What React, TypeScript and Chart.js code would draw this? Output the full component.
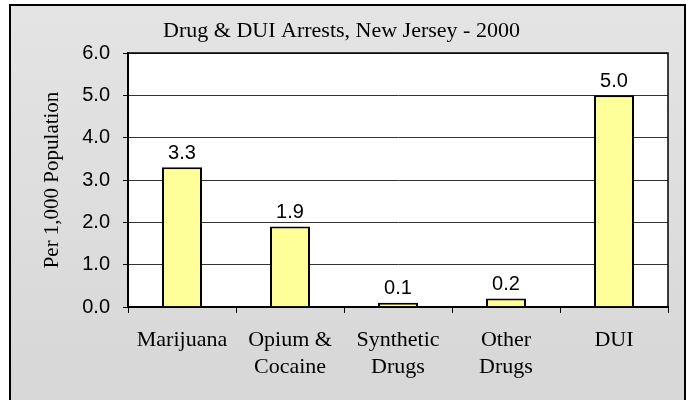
import { useEffect, useRef } from "react";
import { Chart, registerables } from "chart.js";

Chart.register(...registerables);

const categories: string[][] = [
  ["Marijuana"],
  ["Opium &", "Cocaine"],
  ["Synthetic", "Drugs"],
  ["Other", "Drugs"],
  ["DUI"],
];
const values: number[] = [3.3, 1.9, 0.1, 0.2, 5.0];
const yMin = 0;
const yMax = 6;
const yStep = 1;
const titleText = "Drug & DUI Arrests, New Jersey - 2000";
const yAxisTitle = "Per 1,000 Population";

const SERIF = "'Liberation Serif', 'Times New Roman', serif";
const SANS = "'Liberation Sans', Arial, sans-serif";

const framePlugin = {
  id: "frame",
  beforeDraw(chart: any) {
    const { ctx, chartArea } = chart;
    ctx.save();
    ctx.fillStyle = "#ffffff";
    ctx.fillRect(0, 0, chart.width, chart.height);
    const g = ctx.createLinearGradient(0, 5, 0, 400);
    g.addColorStop(0, "#e4e4e4");
    g.addColorStop(1, "#d7d7d7");
    ctx.fillStyle = g;
    ctx.fillRect(10, 5, 675, 400);
    ctx.strokeStyle = "#000000";
    ctx.lineWidth = 2;
    ctx.strokeRect(10, 5, 675, 400);
    ctx.fillStyle = "#ffffff";
    ctx.fillRect(
      chartArea.left,
      chartArea.top,
      chartArea.right - chartArea.left,
      chartArea.bottom - chartArea.top
    );
    ctx.restore();
  },
  afterDatasetsDraw(chart: any) {
    const { ctx, chartArea } = chart;
    ctx.save();
    ctx.strokeStyle = "#000000";
    ctx.lineWidth = 1.5;
    ctx.strokeRect(
      chartArea.left,
      chartArea.top,
      chartArea.right - chartArea.left,
      chartArea.bottom - chartArea.top
    );
    const meta = chart.getDatasetMeta(0);
    ctx.fillStyle = "#000000";
    ctx.font = `20px ${SANS}`;
    ctx.textAlign = "center";
    ctx.textBaseline = "bottom";
    meta.data.forEach((bar: any, i: number) => {
      ctx.fillText(values[i].toFixed(1), bar.x, bar.y - 4);
    });
    ctx.restore();
  },
};

export default function App() {
  const ref = useRef<HTMLCanvasElement>(null);

  useEffect(() => {
    document.body.style.margin = "0";
    const canvas = ref.current;
    if (!canvas) return;
    const chart = new Chart(canvas, {
      type: "bar",
      data: {
        labels: categories,
        datasets: [
          {
            data: values,
            backgroundColor: "#ffff99",
            borderColor: "#000000",
            borderWidth: 2,
            barPercentage: 0.37,
            categoryPercentage: 1,
          },
        ],
      },
      options: {
        animation: false,
        responsive: false,
        layout: { padding: { left: 15, right: 20, top: 0, bottom: 0 } },
        plugins: {
          legend: { display: false },
          tooltip: { enabled: false },
          title: {
            display: true,
            text: titleText,
            color: "#000000",
            font: { family: SERIF, size: 22, weight: "normal" },
            padding: { top: 18, bottom: 8.6 },
          },
        },
        scales: {
          x: {
            offset: true,
            grid: {
              display: true,
              drawOnChartArea: false,
              drawTicks: true,
              tickLength: 6,
              tickColor: "#000000",
              tickWidth: 1,
              offset: true,
            },
            border: { display: true, color: "#000000", width: 2 },
            ticks: {
              color: "#000000",
              font: { family: SERIF, size: 22, lineHeight: 1.23 },
              padding: 14,
              maxRotation: 0,
              autoSkip: false,
            },
            afterFit(scale: any) {
              scale.height = 93;
            },
          },
          y: {
            min: yMin,
            max: yMax,
            grid: {
              color: "#333333",
              lineWidth: 1,
              drawTicks: true,
              tickLength: 5,
              tickColor: "#000000",
            },
            border: { display: true, color: "#000000", width: 2 },
            ticks: {
              stepSize: yStep,
              color: "#000000",
              font: { family: SANS, size: 20 },
              padding: 13,
              callback: (v: any) => Number(v).toFixed(1),
            },
            title: {
              display: true,
              text: yAxisTitle,
              color: "#000000",
              font: { family: SERIF, size: 21, weight: "normal" },
              padding: { top: 25, bottom: 0 },
            },
            afterFit(scale: any) {
              scale.width = 113;
            },
          },
        },
      },
      plugins: [framePlugin],
    } as any);
    return () => chart.destroy();
  }, []);

  return (
    <div style={{ position: "absolute", left: 0, top: 0, width: 688, height: 400 }}>
      <canvas ref={ref} width={688} height={400} style={{ width: 688, height: 400 }} />
    </div>
  );
}
